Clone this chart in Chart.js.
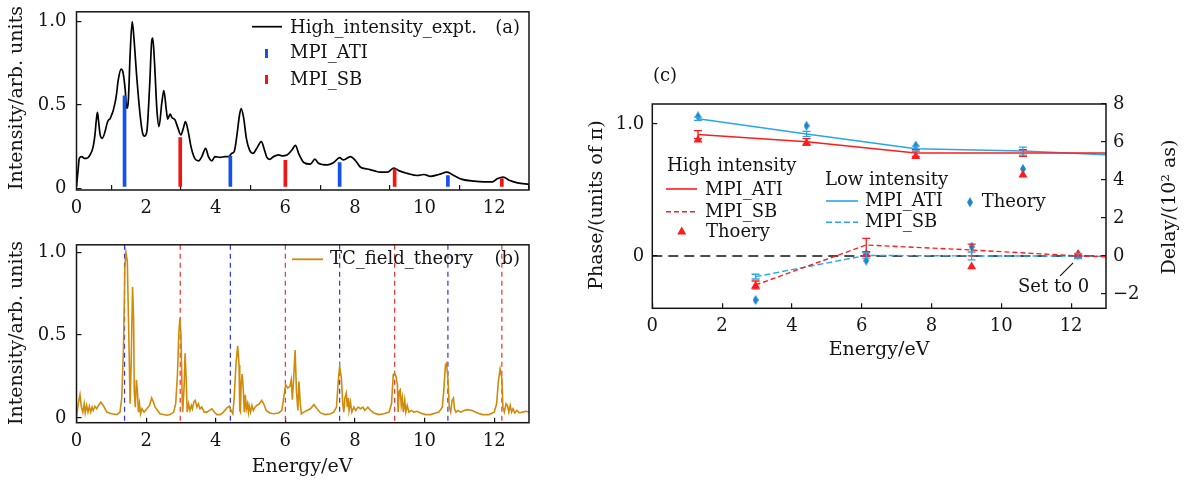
<!DOCTYPE html>
<html>
<head>
<meta charset="utf-8">
<script src="https://cdn.jsdelivr.net/npm/chart.js@4.4.1/dist/chart.umd.min.js"></script>
<style>
  html, body { margin: 0; padding: 0; background: #fff; }
  body { width: 1186px; height: 484px; position: relative; overflow: hidden; }
  canvas { position: absolute; }
</style>
</head>
<body>
<canvas id="panelA" width="560" height="250" style="left:0px;top:-14px"></canvas>
<canvas id="panelB" width="560" height="265" style="left:0px;top:219px"></canvas>
<canvas id="panelC" width="626" height="434" style="left:560px;top:50px"></canvas>
<script>
// ---------- tick values ----------
const energyTicks = [0, 2, 4, 6, 8, 10, 12];
const intensityTicks = [0, 0.5, 1.0];
const phaseTicks = [0, 1.0];
const delayTicks = [-2, 0, 2, 4, 6, 8];

// ---------- (a) measured photoelectron spectrum, high intensity ----------
const exptEnergy = [0.00,0.05,0.08,0.15,0.22,0.29,0.39,0.48,0.53,0.57,0.60,0.63,0.68,0.74,0.82,0.88,0.92,0.96,1.01,1.06,
  1.14,1.20,1.28,1.33,1.40,1.44,1.49,1.54,1.60,1.65,1.73,1.83,1.90,1.95,2.02,2.10,2.16,2.19,2.24,2.31,
  2.37,2.45,2.51,2.58,2.62,2.69,2.74,2.83,2.90,3.00,3.07,3.13,3.20,3.30,3.41,3.51,3.60,3.71,3.79,3.89,
  3.98,4.13,4.27,4.37,4.46,4.53,4.61,4.68,4.73,4.80,4.88,4.97,5.07,5.18,5.31,5.40,5.47,5.55,5.66,5.81,
  5.90,6.05,6.19,6.29,6.38,6.53,6.72,6.85,6.95,7.20,7.39,7.56,7.67,7.87,8.02,8.16,8.35,8.54,8.73,8.93,
  9.12,9.26,9.50,9.79,9.98,10.17,10.41,10.65,10.84,11.08,11.42,11.71,11.95,12.09,12.26,12.43,12.67,13.00];
const exptIntensity = [0.01,0.12,0.18,0.19,0.18,0.18,0.20,0.25,0.32,0.41,0.455,0.41,0.32,0.30,0.34,0.39,0.41,0.415,0.44,0.47,
  0.55,0.65,0.715,0.70,0.59,0.48,0.53,0.80,1.00,0.90,0.67,0.435,0.33,0.313,0.34,0.61,0.88,0.90,0.76,0.47,
  0.37,0.51,0.586,0.47,0.415,0.445,0.425,0.41,0.37,0.32,0.36,0.40,0.35,0.24,0.175,0.165,0.19,0.24,0.19,0.165,
  0.19,0.185,0.19,0.19,0.21,0.22,0.32,0.435,0.478,0.425,0.30,0.23,0.21,0.24,0.28,0.23,0.185,0.174,0.19,0.20,
  0.195,0.20,0.23,0.257,0.21,0.155,0.145,0.175,0.15,0.14,0.155,0.184,0.17,0.19,0.165,0.126,0.116,0.106,0.097,0.097,
  0.122,0.106,0.09,0.077,0.083,0.072,0.083,0.097,0.077,0.054,0.043,0.039,0.039,0.058,0.068,0.048,0.033,0.025];

// MPI peak positions and stick heights
const atiPeakEnergy = [1.38, 4.42, 7.56, 10.67];
const atiStickHeight = [0.555, 0.193, 0.155, 0.077];
const sbPeakEnergy = [2.98, 6.00, 9.14, 12.22];
const sbStickHeight = [0.304, 0.168, 0.116, 0.058];
const stickBase = 0.012;

// ---------- (b) two-colour field theory spectrum ----------
const theoryEnergy = [0.00,0.05,0.10,0.14,0.18,0.22,0.25,0.29,0.33,0.37,0.41,0.45,0.48,0.53,0.58,0.63,0.70,0.77,0.87,1.01,
  1.16,1.25,1.30,1.35,1.39,1.42,1.46,1.51,1.54,1.57,1.61,1.64,1.66,1.69,1.72,1.75,1.78,1.81,1.84,1.88,
  1.94,2.02,2.10,2.16,2.21,2.26,2.33,2.40,2.50,2.60,2.69,2.79,2.85,2.90,2.94,2.97,3.00,3.04,3.05,3.09,
  3.12,3.15,3.18,3.22,3.26,3.30,3.33,3.37,3.41,3.46,3.50,3.55,3.60,3.67,3.75,3.82,3.89,3.96,4.03,4.13,
  4.22,4.32,4.39,4.44,4.49,4.53,4.58,4.63,4.67,4.69,4.71,4.73,4.76,4.79,4.82,4.85,4.88,4.91,4.94,4.96,
  5.00,5.04,5.08,5.13,5.18,5.25,5.32,5.38,5.45,5.55,5.66,5.81,5.90,5.95,6.01,6.07,6.13,6.17,6.20,6.24,
  6.28,6.32,6.36,6.39,6.43,6.46,6.53,6.62,6.72,6.82,6.91,7.01,7.15,7.30,7.39,7.47,7.52,7.56,7.61,7.65,
  7.68,7.71,7.75,7.78,7.81,7.83,7.87,7.91,7.97,8.02,8.09,8.16,8.23,8.28,8.37,8.45,8.54,8.69,8.83,8.98,
  9.05,9.10,9.14,9.18,9.22,9.24,9.27,9.30,9.33,9.36,9.39,9.43,9.46,9.50,9.55,9.62,9.69,9.79,9.88,10.03,
  10.17,10.32,10.41,10.51,10.55,10.60,10.63,10.67,10.71,10.75,10.79,10.83,10.86,10.90,10.96,11.04,11.13,11.23,11.37,11.52,
  11.66,11.85,12.00,12.07,12.12,12.17,12.22,12.25,12.29,12.34,12.38,12.42,12.46,12.50,12.54,12.59,12.65,12.72,12.81,12.91,13.00];
const theoryIntensity = [0.006,0.085,0.14,0.065,0.035,0.085,0.03,0.075,0.035,0.07,0.035,0.065,0.045,0.07,0.055,0.075,0.095,0.075,0.035,0.025,
  0.02,0.035,0.12,0.42,0.91,1.00,0.945,0.42,0.085,0.32,0.79,0.61,0.16,0.065,0.23,0.16,0.035,0.085,0.025,0.055,
  0.035,0.055,0.075,0.12,0.095,0.065,0.045,0.025,0.02,0.016,0.02,0.035,0.085,0.26,0.51,0.60,0.51,0.085,0.035,0.18,
  0.39,0.24,0.035,0.085,0.045,0.075,0.055,0.095,0.105,0.065,0.085,0.055,0.065,0.035,0.035,0.045,0.055,0.035,0.02,0.02,
  0.035,0.06,0.07,0.045,0.025,0.12,0.32,0.435,0.32,0.045,0.035,0.20,0.265,0.18,0.035,0.14,0.055,0.085,0.035,0.075,
  0.035,0.075,0.045,0.065,0.075,0.085,0.105,0.085,0.045,0.03,0.025,0.03,0.045,0.12,0.20,0.18,0.19,0.23,0.11,0.24,
  0.41,0.16,0.045,0.22,0.085,0.025,0.035,0.045,0.055,0.08,0.055,0.03,0.02,0.025,0.035,0.065,0.22,0.31,0.24,0.085,
  0.035,0.12,0.15,0.065,0.12,0.045,0.095,0.035,0.065,0.045,0.065,0.055,0.065,0.045,0.065,0.045,0.03,0.02,0.025,0.035,
  0.085,0.26,0.27,0.25,0.20,0.035,0.16,0.17,0.075,0.12,0.035,0.105,0.035,0.075,0.035,0.045,0.035,0.04,0.03,0.02,
  0.02,0.03,0.035,0.065,0.16,0.32,0.33,0.24,0.065,0.035,0.105,0.12,0.055,0.035,0.045,0.035,0.045,0.05,0.045,0.03,
  0.02,0.02,0.035,0.085,0.22,0.295,0.24,0.065,0.035,0.085,0.075,0.035,0.075,0.035,0.055,0.03,0.045,0.03,0.035,0.04,0.035];

// ---------- (c) extracted phases (units of pi) ----------
const atiEnergyC = [1.31, 4.42, 7.55, 10.62, 13.0];
const highAtiPhase = [0.92, 0.865, 0.78, 0.78, 0.78];
const highAtiError = [0.03, 0.025, 0.025, 0.025];
const lowAtiPhase = [1.04, 0.925, 0.812, 0.795, 0.767];
const lowAtiError = [0.012, 0.02, 0.02, 0.03];

const sbEnergyC = [2.96, 6.13, 9.15, 12.2, 13.0];
const highSbPhase = [-0.22, 0.083, 0.045, 0.0, -0.006];
const highSbError = [0.03, 0.05, 0.045, 0.015];
const lowSbPhase = [-0.157, 0.004, 0.0, 0.0, -0.004];
const lowSbError = [0.018, 0.02, 0.03, 0.02];

const theoryEnergyC = [1.31, 2.96, 4.42, 6.13, 7.55, 9.15, 10.62, 12.2];
const highTheoryPhase = [0.88, -0.228, 0.856, 0.013, 0.754, -0.081, 0.615, 0.013];
const lowTheoryPhase = [1.058, -0.334, 0.987, -0.035, 0.837, 0.07, 0.66, 0.01];

// ---------- styling ----------
const FONT = "'DejaVu Serif', serif";
const FS = 18;        // tick labels and legend entries
const FS_TITLE = 19;  // axis titles
const INK = '#151515';
const RED = '#ff1c1c';
const SKY = '#27a6ee';
const DIAMOND = '#1a86cf';
const STICK_BLUE = '#1450f0';
const STICK_RED = '#f01414';
const GOLD = '#d08b0b';

const pts = (xs, ys) => xs.map((x, i) => ({ x, y: ys[i] }));

function drawText(ctx, str, x, y, opt = {}) {
  ctx.save();
  ctx.font = `${opt.size || FS}px ${FONT}`;
  ctx.fillStyle = opt.color || INK;
  ctx.textAlign = opt.align || 'left';
  ctx.textBaseline = 'middle';
  if (opt.rotate) { ctx.translate(x, y); ctx.rotate(opt.rotate); ctx.fillText(str, 0, 0); }
  else ctx.fillText(str, x, y);
  ctx.restore();
}

function hLine(ctx, x1, x2, y, color, width, dash) {
  ctx.save();
  ctx.strokeStyle = color; ctx.lineWidth = width; ctx.setLineDash(dash || []);
  ctx.beginPath(); ctx.moveTo(x1, y); ctx.lineTo(x2, y); ctx.stroke();
  ctx.restore();
}

// full box around the plotting area
const framePlugin = {
  id: 'frame',
  afterDraw(chart) {
    const { ctx, chartArea: a } = chart;
    ctx.save();
    ctx.strokeStyle = INK; ctx.lineWidth = 1.5;
    ctx.strokeRect(a.left, a.top, a.right - a.left, a.bottom - a.top);
    ctx.restore();
  }
};

function energyAxis(height, pad) {
  return {
    type: 'linear', position: 'bottom', min: 0, max: 13, offset: false,
    afterBuildTicks: s => { s.ticks = energyTicks.map(v => ({ value: v })); },
    ticks: { font: { family: FONT, size: FS }, color: INK, padding: pad, maxRotation: 0, autoSkip: false,
             callback: v => String(v) },
    grid: { drawOnChartArea: false, drawTicks: true, tickLength: -5, color: INK, lineWidth: 1.2 },
    border: { display: false },
    afterFit: s => { s.height = height; }
  };
}

function valueAxis(position, min, max, tickValues, fmt, width, pad) {
  return {
    type: 'linear', position, min, max, display: true,
    afterBuildTicks: s => { s.ticks = tickValues.map(v => ({ value: v })); },
    ticks: { font: { family: FONT, size: FS }, color: INK, padding: pad, autoSkip: false, callback: fmt },
    grid: { drawOnChartArea: false, drawTicks: true, tickLength: -5, color: INK, lineWidth: 1.2 },
    border: { display: false },
    afterFit: s => { s.width = width; }
  };
}

const intensityFmt = v => (v === 0 ? '0' : v.toFixed(1));
const baseOptions = {
  responsive: false, animation: false, events: [],
  plugins: { legend: { display: false }, tooltip: { enabled: false } }
};

// ================= panel (a) =================
new Chart(document.getElementById('panelA'), {
  type: 'line',
  data: {
    datasets: [
      { type: 'bar', label: 'MPI_ATI', data: atiPeakEnergy.map((x, i) => ({ x, y: [stickBase, atiStickHeight[i]] })),
        backgroundColor: STICK_BLUE, barThickness: 3, grouped: false },
      { type: 'bar', label: 'MPI_SB', data: sbPeakEnergy.map((x, i) => ({ x, y: [stickBase, sbStickHeight[i]] })),
        backgroundColor: STICK_RED, barThickness: 3, grouped: false },
      { type: 'line', label: 'High_intensity_expt.', data: pts(exptEnergy, exptIntensity),
        borderColor: '#000', borderWidth: 1.7, pointRadius: 0, cubicInterpolationMode: 'monotone' }
    ]
  },
  options: Object.assign({}, baseOptions, {
    layout: { padding: { left: 0, right: 31, top: 20, bottom: 10 } },
    scales: {
      x: energyAxis(36, 13),
      y: valueAxis('left', -0.01, 1.058, intensityTicks, intensityFmt, 76.5, 15)
    }
  }),
  plugins: [framePlugin, {
    id: 'annotA',
    afterDraw(chart) {
      const ctx = chart.ctx;
      drawText(ctx, 'Intensity/arb. units', 17, 112, { rotate: -Math.PI / 2, align: 'center', size: FS_TITLE });
      hLine(ctx, 252, 282, 40.7, '#000', 1.7);
      drawText(ctx, 'High_intensity_expt.', 290, 42.3);
      drawText(ctx, '(a)', 520, 42.3, { align: 'right' });
      ctx.fillStyle = STICK_BLUE; ctx.fillRect(265, 63, 3, 9);
      drawText(ctx, 'MPI_ATI', 290, 67.3);
      ctx.fillStyle = STICK_RED; ctx.fillRect(265, 89, 3, 9);
      drawText(ctx, 'MPI_SB', 290, 94);
    }
  }]
});

// ================= panel (b) =================
new Chart(document.getElementById('panelB'), {
  type: 'line',
  data: {
    datasets: [
      { label: 'TC_field_theory', data: pts(theoryEnergy, theoryIntensity),
        borderColor: GOLD, borderWidth: 1.6, pointRadius: 0, tension: 0 }
    ]
  },
  options: Object.assign({}, baseOptions, {
    layout: { padding: { left: 0, right: 31, top: 20, bottom: 0 } },
    scales: {
      x: energyAxis(61.3, 13),
      y: valueAxis('left', -0.029, 1.045, intensityTicks, intensityFmt, 76.5, 15)
    }
  }),
  plugins: [framePlugin, {
    id: 'peakMarkers',
    beforeDatasetsDraw(chart) {
      const { ctx, chartArea: a, scales: { x } } = chart;
      ctx.save();
      ctx.lineWidth = 1.2; ctx.setLineDash([5, 4]);
      const mark = (e, color) => {
        const px = x.getPixelForValue(e);
        ctx.strokeStyle = color;
        ctx.beginPath(); ctx.moveTo(px, a.top); ctx.lineTo(px, a.bottom); ctx.stroke();
      };
      atiPeakEnergy.forEach(e => mark(e, '#2a35ee'));
      sbPeakEnergy.forEach(e => mark(e, '#f03030'));
      ctx.restore();
    },
    afterDraw(chart) {
      const ctx = chart.ctx;
      drawText(ctx, 'Intensity/arb. units', 17, 114, { rotate: -Math.PI / 2, align: 'center', size: FS_TITLE });
      drawText(ctx, 'Energy/eV', 302, 248, { align: 'center', size: FS_TITLE });
      hLine(ctx, 292, 323, 40.3, GOLD, 1.8);
      drawText(ctx, 'TC_field_theory', 330, 40.5);
      drawText(ctx, '(b)', 520, 40.5, { align: 'right' });
    }
  }]
});

// ================= panel (c) =================
function diamondSprite(w, h, color) {
  const c = document.createElement('canvas');
  c.width = w; c.height = h;
  const g = c.getContext('2d');
  g.fillStyle = color;
  g.beginPath(); g.moveTo(w / 2, 0); g.lineTo(w, h / 2); g.lineTo(w / 2, h); g.lineTo(0, h / 2); g.closePath(); g.fill();
  return c;
}
const diamond = diamondSprite(6, 10, DIAMOND);

const phaseMin = -0.397, phaseMax = 1.152;
const delayPerPhase = 8 / phaseMax;   // right axis shares the zero of the left axis

const errorBarPlugin = {
  id: 'errorBars',
  afterDatasetsDraw(chart) {
    const ctx = chart.ctx;
    chart.data.datasets.forEach((ds, i) => {
      if (!ds.errorBars) return;
      const meta = chart.getDatasetMeta(i);
      const xs = chart.scales[meta.xAxisID], ys = chart.scales[meta.yAxisID];
      ctx.save();
      ctx.strokeStyle = ds.borderColor; ctx.lineWidth = 1.3; ctx.setLineDash([]);
      ds.data.forEach((p, j) => {
        const e = ds.errorBars[j];
        if (e == null) return;
        const px = xs.getPixelForValue(p.x);
        const y1 = ys.getPixelForValue(p.y - e), y2 = ys.getPixelForValue(p.y + e);
        ctx.beginPath();
        ctx.moveTo(px, y1); ctx.lineTo(px, y2);
        ctx.moveTo(px - 4, y1); ctx.lineTo(px + 4, y1);
        ctx.moveTo(px - 4, y2); ctx.lineTo(px + 4, y2);
        ctx.stroke();
      });
      ctx.restore();
    });
  }
};

new Chart(document.getElementById('panelC'), {
  type: 'line',
  data: {
    datasets: [
      { label: 'Thoery (high)', data: pts(theoryEnergyC, highTheoryPhase), showLine: false,
        pointStyle: 'triangle', pointRadius: 5.2, pointBackgroundColor: RED, pointBorderColor: RED, pointBorderWidth: 0 },
      { label: 'Theory (low)', data: pts(theoryEnergyC, lowTheoryPhase), showLine: false,
        pointStyle: diamond, pointRadius: 5 },
      { label: 'MPI_ATI high', data: pts(atiEnergyC, highAtiPhase), errorBars: highAtiError,
        borderColor: RED, borderWidth: 1.5, pointRadius: 0, tension: 0 },
      { label: 'MPI_SB high', data: pts(sbEnergyC, highSbPhase), errorBars: highSbError,
        borderColor: RED, borderWidth: 1.4, borderDash: [5, 3], pointRadius: 0, tension: 0 },
      { label: 'MPI_ATI low', data: pts(atiEnergyC, lowAtiPhase), errorBars: lowAtiError,
        borderColor: SKY, borderWidth: 1.5, pointRadius: 0, tension: 0 },
      { label: 'MPI_SB low', data: pts(sbEnergyC, lowSbPhase), errorBars: lowSbError,
        borderColor: SKY, borderWidth: 1.4, borderDash: [6, 3], pointRadius: 0, tension: 0 }
    ]
  },
  options: Object.assign({}, baseOptions, {
    layout: { padding: { left: 0, right: 0, top: 54, bottom: 0 } },
    scales: {
      x: energyAxis(175.7, 12),
      y: valueAxis('left', phaseMin, phaseMax, phaseTicks, intensityFmt, 92.3, 13),
      y2: valueAxis('right', phaseMin * delayPerPhase, 8, delayTicks,
        v => (v < 0 ? '\u2212' + Math.abs(v) : String(v)), 80, 12)
    }
  }),
  plugins: [framePlugin, errorBarPlugin, {
    id: 'annotC',
    beforeDatasetsDraw(chart) {
      const { ctx, chartArea: a, scales: { y } } = chart;
      hLine(ctx, a.left, a.right, y.getPixelForValue(0), '#111', 1.5, [10, 6]);
    },
    afterDraw(chart) {
      const { ctx, scales: { x, y } } = chart;
      drawText(ctx, '(c)', 93, 26);
      drawText(ctx, 'Phase/(units of \u03c0)', 37, 155, { rotate: -Math.PI / 2, align: 'center', size: FS_TITLE });
      drawText(ctx, 'Delay/(10\u00b2 as)', 610, 157, { rotate: -Math.PI / 2, align: 'center', size: FS_TITLE });
      drawText(ctx, 'Energy/eV', 319, 300, { align: 'center', size: FS_TITLE });

      // high intensity legend
      drawText(ctx, 'High intensity', 107, 116.7);
      hLine(ctx, 106, 137, 139, RED, 1.6);
      drawText(ctx, 'MPI_ATI', 145, 140);
      hLine(ctx, 106, 137, 161.7, RED, 1.4, [5, 3]);
      drawText(ctx, 'MPI_SB', 145, 162.3);
      ctx.save(); ctx.fillStyle = RED; ctx.beginPath();
      ctx.moveTo(121.7, 176.5); ctx.lineTo(126.2, 184.5); ctx.lineTo(117.2, 184.5); ctx.closePath(); ctx.fill(); ctx.restore();
      drawText(ctx, 'Thoery', 146, 182.3);

      // low intensity legend
      drawText(ctx, 'Low intensity', 265, 130);
      hLine(ctx, 266, 298, 151, SKY, 1.6);
      drawText(ctx, 'MPI_ATI', 305, 151);
      hLine(ctx, 266, 298, 172.3, SKY, 1.4, [6, 3]);
      drawText(ctx, 'MPI_SB', 305, 172.3);
      ctx.drawImage(diamond, 407, 147.3);
      drawText(ctx, 'Theory', 421.7, 152);

      // reference point note
      const px = x.getPixelForValue(sbEnergyC[3]), py = y.getPixelForValue(0);
      ctx.save(); ctx.strokeStyle = '#111'; ctx.lineWidth = 1.1;
      ctx.beginPath(); ctx.moveTo(px - 5, py + 7); ctx.lineTo(px - 18, py + 20); ctx.stroke(); ctx.restore();
      drawText(ctx, 'Set to 0', 458, 237.7);
    }
  }]
});
</script>
</body>
</html>
